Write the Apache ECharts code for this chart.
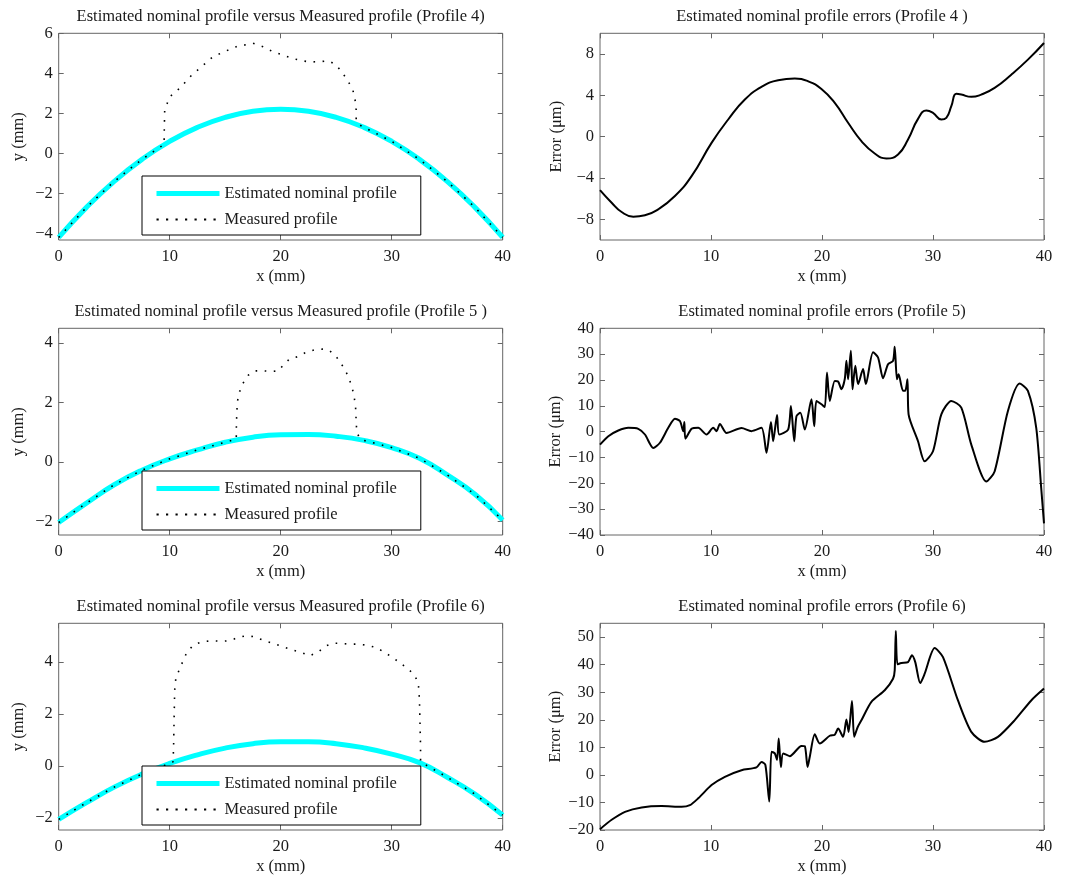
<!DOCTYPE html>
<html><head><meta charset="utf-8">
<script src="https://cdn.jsdelivr.net/npm/echarts@6/dist/echarts.min.js"></script>
<style>html,body{margin:0;padding:0;background:#fff}#c{width:1070px;height:877px}</style>
</head><body><div id="c"></div>
<script>
// ---------- data ----------
const X_TICKS = [0, 10, 20, 30, 40];
const Y_TICKS_P4 = [-4, -2, 0, 2, 4, 6];
const Y_TICKS_P5 = [-2, 0, 2, 4];
const Y_TICKS_P6 = [-2, 0, 2, 4];
const E_TICKS_P4 = [-8, -4, 0, 4, 8];
const E_TICKS_P5 = [-40, -30, -20, -10, 0, 10, 20, 30, 40];
const E_TICKS_P6 = [-20, -10, 0, 10, 20, 30, 40, 50];

const TITLES = [
  'Estimated nominal profile versus Measured profile (Profile 4)',
  'Estimated nominal profile errors (Profile 4 )',
  'Estimated nominal profile versus Measured profile (Profile 5 )',
  'Estimated nominal profile errors (Profile 5)',
  'Estimated nominal profile versus Measured profile (Profile 6)',
  'Estimated nominal profile errors (Profile 6)'
];
const NAME_NOMINAL = 'Estimated nominal profile';
const NAME_MEASURED = 'Measured profile';

const NOM_X = [0, 2.5, 5, 7.5, 10, 12.5, 15, 17.5, 20, 22.5, 25, 27.5, 30, 32.5, 35, 37.5, 40];
const NOM4_Y = [-4.2, -2.7, -1.4, -0.3, 0.6, 1.3, 1.8, 2.1, 2.2, 2.1, 1.8, 1.3, 0.6, -0.3, -1.4, -2.7, -4.2];
const NOM5_Y = [-2.03, -1.38, -0.76, -0.27, 0.11, 0.41, 0.67, 0.84, 0.92, 0.93, 0.87, 0.73, 0.49, 0.13, -0.43, -1.08, -1.95];
const NOM6_Y = [-2.06, -1.42, -0.82, -0.32, 0.09, 0.42, 0.68, 0.85, 0.92, 0.92, 0.85, 0.69, 0.45, 0.12, -0.44, -1.09, -1.9];

const MEAS4 = [[0,-4.2],[2.5,-2.7],[5,-1.4],[7.5,-0.3],[9.5,0.45],[9.5,0.83],[9.55,2.17],[10.0,2.83],[10.9,3.25],[12.0,3.92],
  [12.7,4.25],[13.9,4.83],[15.3,5.17],[16.0,5.33],[17.5,5.5],[18.4,5.33],[19.3,5.08],[20.2,4.92],[21.0,4.75],[21.9,4.63],
  [22.6,4.57],[23.5,4.58],[24.3,4.63],[25.0,4.42],[25.6,4.0],[26.1,3.58],[26.5,3.17],[26.7,2.67],[26.8,2.17],[26.8,1.67],
  [27.1,1.42],[27.5,1.3],[30,0.6],[32.5,-0.3],[35,-1.4],[37.5,-2.7],[40,-4.2]];
const MEAS5 = [[0,-2.03],[2.5,-1.38],[5,-0.76],[7.5,-0.27],[10,0.11],[12.5,0.41],[15,0.67],[16.0,0.77],[16.0,1.09],[16.05,1.7],
  [16.1,2.04],[16.3,2.37],[16.6,2.65],[17.1,2.93],[17.7,3.07],[18.4,3.07],[19.2,3.05],[19.8,3.07],[20.2,3.25],[20.8,3.47],
  [21.6,3.55],[22.3,3.7],[23.1,3.78],[23.8,3.8],[24.4,3.75],[25.0,3.55],[25.6,3.22],[26.1,2.88],[26.4,2.54],[26.6,2.26],
  [26.75,1.81],[26.8,1.37],[26.85,1.03],[27.1,0.8],[27.5,0.73],[30,0.49],[32.5,0.13],[35,-0.43],[37.5,-1.08],[40,-1.95]];
const MEAS6 = [[0,-2.06],[2.5,-1.42],[5,-0.82],[7.5,-0.32],[10,0.09],[10.3,0.15],[10.35,0.73],[10.4,1.88],[10.45,2.91],[10.55,3.36],
  [10.85,3.68],[11.2,4.03],[11.5,4.32],[12.1,4.64],[12.9,4.77],[13.8,4.81],[14.7,4.79],[15.4,4.81],[16.2,4.94],[16.9,5.0],
  [17.7,4.96],[18.4,4.83],[19.3,4.71],[20.2,4.58],[21.1,4.45],[21.9,4.35],[22.6,4.23],[23.4,4.38],[24.0,4.6],[24.7,4.71],
  [25.3,4.71],[26.2,4.68],[27.0,4.68],[27.7,4.64],[28.6,4.55],[29.4,4.35],[30.2,4.13],[30.9,3.91],[31.6,3.68],[32.1,3.45],
  [32.4,3.17],[32.5,2.53],[32.55,1.63],[32.6,0.73],[32.6,0.15],[35,-0.44],[37.5,-1.09],[40,-1.9]];

const ERR4 = [[0,-5.17],[1.05,-6.39],[1.95,-7.29],[3.0,-7.74],[4.05,-7.61],[5.25,-7.03],[6.75,-5.75],[8.25,-3.82],[10.05,-0.6],
  [11.55,1.66],[13.05,3.59],[14.55,4.81],[16.05,5.46],[17.55,5.62],[18.75,5.36],[19.95,4.62],[21.15,3.27],[22.35,1.34],
  [23.55,-0.43],[24.75,-1.63],[25.8,-2.11],[26.85,-1.72],[27.75,-0.27],[28.65,1.72],[29.4,2.53],[30.0,2.3],[30.75,1.66],
  [31.2,1.82],[31.65,2.95],[32.1,4.14],[32.55,4.07],[33.45,3.85],[34.35,4.07],[35.55,4.72],[37.05,6.0],[38.55,7.45],[40,9.06]];
const ERR5 = [[0,-5.0],[0.75,-1.75],[1.65,0.45],[2.55,1.49],[3.45,1.1],[4.05,-1.1],[4.8,-6.3],[5.4,-4.3],[6.15,1.5],[6.75,5.0],
  [7.2,4.1],[7.5,0.2],[7.6,3.7],[7.7,-2.7],[8.25,1.1],[8.85,1.5],[9.6,-1.1],[10.2,1.5],[10.5,0.2],[10.8,3.0],[11.4,-0.5],
  [12.75,1.4],[13.65,0.2],[14.55,1.5],[15.0,-8.2],[15.4,3.7],[15.6,-3.7],[15.95,6.4],[16.15,-1.1],[16.95,0.8],[17.2,9.9],
  [17.5,-3.7],[17.7,6.0],[18.05,7.3],[18.45,0.8],[19.05,12.5],[19.3,2.1],[19.5,11.9],[19.95,10.6],[20.25,9.5],[20.45,22.9],
  [20.7,11.9],[21.15,19.6],[21.45,19.4],[21.75,16.4],[22.05,20.3],[22.2,27.4],[22.35,20.3],[22.6,31.3],[22.75,16.4],[23.0,25.5],
  [23.25,18.4],[23.7,24.2],[23.95,18.4],[24.6,30.7],[25.05,28.7],[25.5,20.7],[25.95,26.1],[26.4,27.4],[26.55,32.9],[26.75,20.3],
  [26.9,22.2],[27.3,15.8],[27.5,15.8],[27.7,20.3],[27.8,6.7],[28.65,-3.7],[29.25,-11.5],[30.0,-7.6],[30.75,6.7],[31.65,11.9],
  [32.55,9.3],[33.45,-5.0],[34.8,-19.3],[35.55,-15.4],[36.75,8.0],[37.8,18.6],[38.55,15.8],[39.3,1.5],[39.75,-21.9],[40,-35.5]];
const ERR6 = [[0,-19.7],[1.05,-16.3],[2.25,-13.4],[3.75,-11.8],[5.55,-11.3],[7.35,-11.6],[8.1,-11.0],[8.85,-8.5],[10.05,-3.7],
  [11.25,-0.7],[12.75,1.7],[14.1,2.7],[14.55,4.7],[14.9,3.6],[15.25,-9.7],[15.45,8.4],[15.75,7.8],[15.95,5.4],[16.1,13.2],
  [16.3,2.9],[16.5,7.8],[17.1,6.8],[18.15,10.5],[18.45,10.4],[18.7,2.9],[18.9,6.6],[19.35,14.7],[19.8,11.4],[20.7,14.2],
  [21.15,14.6],[21.45,16.8],[21.9,13.8],[22.2,20.1],[22.4,15.6],[22.7,26.8],[22.9,13.8],[23.2,17.2],[23.55,19.8],[24.45,26.5],
  [25.65,30.7],[26.4,34.9],[26.55,37.9],[26.65,52.2],[26.8,40.1],[27.15,40.6],[27.75,40.9],[28.1,43.4],[28.4,40.9],[28.85,33.3],
  [29.25,36.7],[30.15,46.0],[30.9,42.7],[32.25,27.0],[33.45,15.6],[34.65,12.0],[35.85,13.8],[37.35,19.8],[38.85,27.0],[40,31.3]];

// ---------- layout ----------
const FONT = 'Liberation Serif';
const FS = 16.5;
const TXT = '#1a1a1a';
const FRAME = '#666';
const COL_LEFT = [58.7, 600];
const PLOT_W = 444;
const ROW_TOP = [33.3, 328.3, 623.3];
const PLOT_H = 206.7;

const panels = [
  {row:0,col:0,ymin:-4.33,ymax:6,ticks:Y_TICKS_P4,yname:'y (mm)'},
  {row:0,col:1,ymin:-10,ymax:10,ticks:E_TICKS_P4,yname:'Error (\u03bcm)'},
  {row:1,col:0,ymin:-2.45,ymax:4.5,ticks:Y_TICKS_P5,yname:'y (mm)'},
  {row:1,col:1,ymin:-40,ymax:40,ticks:E_TICKS_P5,yname:'Error (\u03bcm)'},
  {row:2,col:0,ymin:-2.47,ymax:5.48,ticks:Y_TICKS_P6,yname:'y (mm)'},
  {row:2,col:1,ymin:-20,ymax:55,ticks:E_TICKS_P6,yname:'Error (\u03bcm)'}
];

const fmt = v => String(v).replace('-', '\u2212');
const labelStyle = {fontFamily: FONT, fontSize: FS, color: TXT};

const grid = [], xAxis = [], yAxis = [], title = [];
const xTop = [], yRight = [];
panels.forEach((p, i) => {
  const left = COL_LEFT[p.col], top = ROW_TOP[p.row];
  grid.push({left, top, width: PLOT_W, height: PLOT_H, show: true, borderColor: FRAME, borderWidth: 1,
             backgroundColor: 'transparent', outerBoundsMode: 'none'});
  title.push({text: TITLES[i], left: left + PLOT_W / 2, top: top - 25, textAlign: 'center', padding: 0,
              textStyle: {fontFamily: FONT, fontSize: FS, fontWeight: 'normal', color: TXT}});
  const tick = {show: true, inside: true, length: 5, lineStyle: {color: FRAME, width: 1}};
  const noLine = {show: false, onZero: false};
  xAxis.push({type: 'value', gridIndex: i, min: 0, max: 40, name: 'x (mm)', nameLocation: 'middle', nameGap: 28,
    nameTextStyle: labelStyle, axisLine: noLine, splitLine: {show: false},
    axisTick: Object.assign({customValues: X_TICKS}, tick),
    axisLabel: Object.assign({customValues: X_TICKS, margin: 8, formatter: fmt, showMinLabel: true, showMaxLabel: true}, labelStyle)});
  xTop.push({type: 'value', gridIndex: i, position: 'top', min: 0, max: 40, axisLine: noLine, splitLine: {show: false},
    axisTick: Object.assign({customValues: X_TICKS}, tick), axisLabel: {show: false}});
  yAxis.push({type: 'value', gridIndex: i, position: 'left', min: p.ymin, max: p.ymax, name: p.yname, nameLocation: 'middle',
    nameGap: p.col === 0 ? 32 : 35, nameRotate: 90, nameTextStyle: labelStyle,
    axisLine: noLine, splitLine: {show: false},
    axisTick: Object.assign({customValues: p.ticks}, tick),
    axisLabel: Object.assign({customValues: p.ticks, margin: 6, formatter: fmt}, labelStyle)});
  yRight.push({type: 'value', gridIndex: i, position: 'right', min: p.ymin, max: p.ymax, axisLine: noLine,
    splitLine: {show: false}, axisTick: Object.assign({customValues: p.ticks}, tick), axisLabel: {show: false}});
});

const series = [];
const nomSets = [NOM4_Y, NOM5_Y, NOM6_Y];
const measSets = [MEAS4, MEAS5, MEAS6];
const errSets = [ERR4, ERR5, ERR6];
[0, 1, 2].forEach(r => {
  const li = r * 2, ri = r * 2 + 1;
  series.push({type: 'line', name: NAME_NOMINAL, xAxisIndex: li, yAxisIndex: li, symbol: 'none', smooth: true,
    data: NOM_X.map((x, k) => [x, nomSets[r][k]]), lineStyle: {color: '#00ffff', width: 5}, itemStyle: {color: '#00ffff'},
    z: 2, animation: false});
  series.push({type: 'line', name: NAME_MEASURED, xAxisIndex: li, yAxisIndex: li, symbol: 'none', smooth: false,
    data: measSets[r], lineStyle: {color: '#000', width: 1.6, type: [1.6, 7.5]}, itemStyle: {color: '#000'},
    z: 3, animation: false});
  series.push({type: 'line', name: 'Error ' + (r + 4), xAxisIndex: ri, yAxisIndex: ri, symbol: 'none',
    smooth: r === 0 ? true : 0.25, data: errSets[r], lineStyle: {color: '#000', width: 2}, itemStyle: {color: '#000'},
    animation: false});
});

const legend = ROW_TOP.map(t => ({
  show: true, orient: 'vertical', left: 142, top: t + 142.7, padding: [9, 24, 7, 12], itemWidth: 63, itemHeight: 14, itemGap: 9,
  backgroundColor: '#fff', borderColor: '#000', borderWidth: 1, selectedMode: false, z: 10,
  textStyle: {fontFamily: FONT, fontSize: FS, color: TXT},
  data: [
    {name: NAME_NOMINAL, itemStyle: {opacity: 0, borderWidth: 0}, lineStyle: {width: 5, color: '#00ffff', type: 'solid'}},
    {name: NAME_MEASURED, itemStyle: {opacity: 0, borderWidth: 0}, lineStyle: {width: 2.2, color: '#000', type: [2.2, 7.3]}}
  ]
}));

const chart = echarts.init(document.getElementById('c'), null, {renderer: 'canvas'});
chart.setOption({
  animation: false,
  backgroundColor: '#fff',
  title, grid, legend,
  xAxis: xAxis.concat(xTop),
  yAxis: yAxis.concat(yRight),
  series
});
</script>
</body></html>
